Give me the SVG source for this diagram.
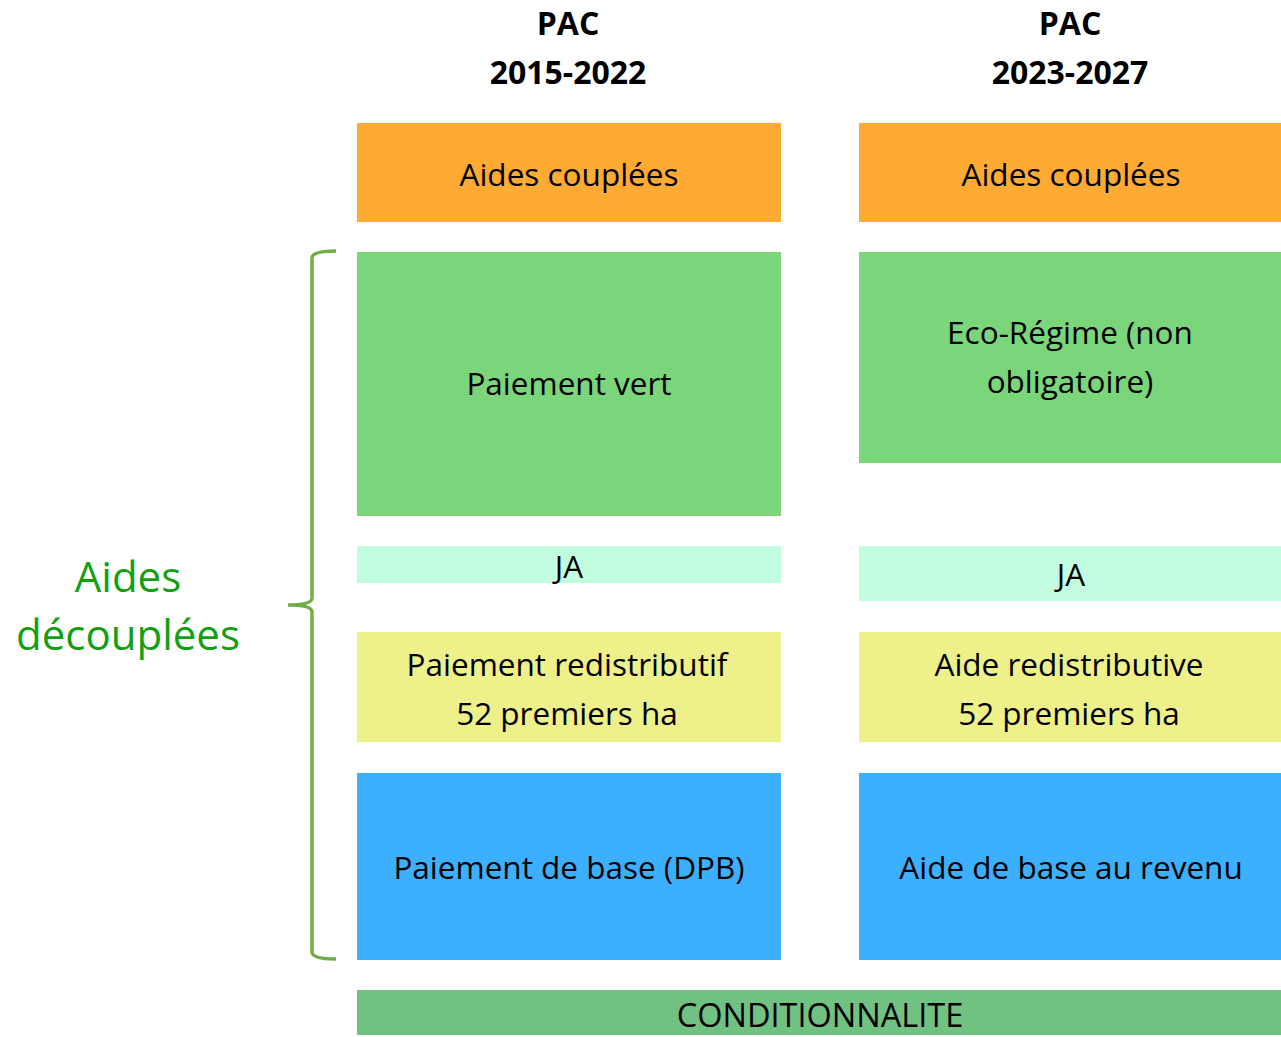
<svg xmlns="http://www.w3.org/2000/svg" width="1281" height="1037" viewBox="0 0 1281 1037">
<style>
text{font-family:"Open Sans","Liberation Sans",sans-serif;font-size:31.5px;fill:#000;text-anchor:middle}
.t{font-weight:bold;font-size:32px}
.c{font-size:32.5px}
.lg{fill:#12A012;font-size:42px}
.or{fill:#FFAA33}.gr{fill:#7BD57B}.ja{fill:#C2FDE0}.ye{fill:#EEF08A}.bl{fill:#3CB0FF}.co{fill:#71C282}
</style>
<g id="titles">
<text class="t" x="568" y="35">PAC</text>
<text class="t" x="568" y="84">2015-2022</text>
<text class="t" x="1070" y="35">PAC</text>
<text class="t" x="1070" y="84">2023-2027</text>
</g>
<g id="l-couplees"><rect class="or" x="357" y="123" width="424" height="99"/><text x="569" y="186">Aides couplées</text></g>
<g id="r-couplees"><rect class="or" x="859" y="123" width="422" height="99"/><text x="1071" y="186">Aides couplées</text></g>
<g id="l-vert"><rect class="gr" x="357" y="252" width="424" height="264"/><text x="569" y="395">Paiement vert</text></g>
<g id="r-eco"><rect class="gr" x="859" y="252" width="422" height="211"/><text x="1070" y="344">Eco-Régime (non</text><text x="1070" y="393">obligatoire)</text></g>
<g id="l-ja"><rect class="ja" x="357" y="546" width="424" height="37"/><text x="569" y="578">JA</text></g>
<g id="r-ja"><rect class="ja" x="859" y="546" width="422" height="55"/><text x="1071" y="586">JA</text></g>
<g id="l-redis"><rect class="ye" x="357" y="632" width="424" height="110"/><text x="567" y="676">Paiement redistributif</text><text x="567" y="725">52 premiers ha</text></g>
<g id="r-redis"><rect class="ye" x="859" y="632" width="422" height="110"/><text x="1069" y="676">Aide redistributive</text><text x="1069" y="725">52 premiers ha</text></g>
<g id="l-base"><rect class="bl" x="357" y="773" width="424" height="187"/><text x="569" y="879">Paiement de base (DPB)</text></g>
<g id="r-base"><rect class="bl" x="859" y="773" width="422" height="187"/><text x="1071" y="879">Aide de base au revenu</text></g>
<g id="cond"><rect class="co" x="357" y="990" width="924" height="45"/><text class="c" x="820" y="1027">CONDITIONNALITE</text></g>
<g id="brace">
<path d="M336,251 Q312,251 312,258 L312,598 Q312,605 288,605 Q312,605 312,612 L312,952 Q312,959 336,959" fill="none" stroke="#70AD47" stroke-width="3.5"/>
</g>
<g id="label"><text class="lg" x="128" y="592">Aides</text><text class="lg" x="128" y="650">découplées</text></g>
</svg>
